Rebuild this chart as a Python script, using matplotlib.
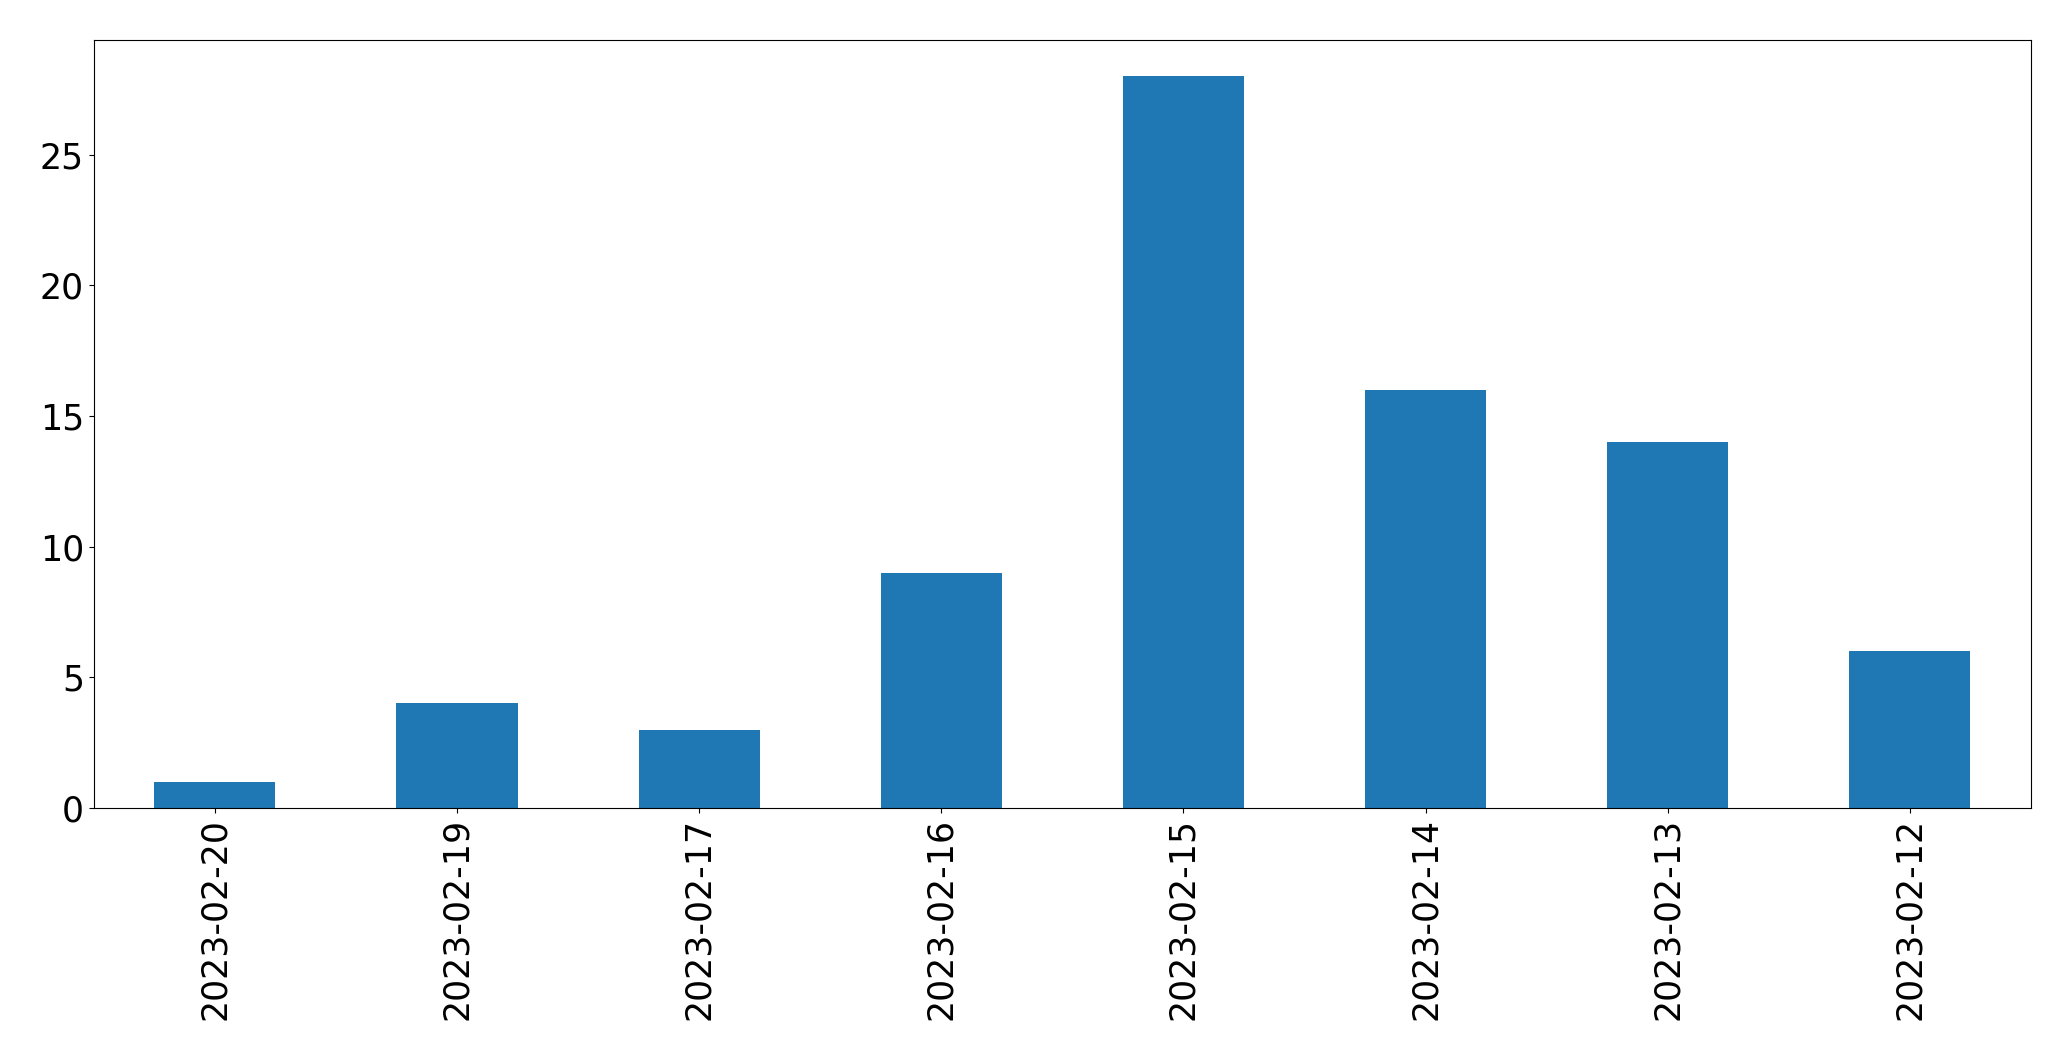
import matplotlib
matplotlib.use("Agg")
import matplotlib.pyplot as plt
import numpy as np

dates = ["2023-02-20", "2023-02-19", "2023-02-17", "2023-02-16",
         "2023-02-15", "2023-02-14", "2023-02-13", "2023-02-12"]
counts = [1, 4, 3, 9, 28, 16, 14, 6]

fig = plt.figure(figsize=(20.71, 10.61), dpi=100)
ax = fig.add_axes([93.8 / 2071, 1 - 808 / 1061, (2031 - 93.8) / 2071, (808 - 39.6) / 1061])

x = np.arange(len(dates))
ax.bar(x, counts, width=0.5, color="#1f77b4")
ax.set_xlim(-0.5, len(dates) - 0.5)
ax.set_xticks(x)
ax.set_xticklabels(dates, rotation=90)
ax.tick_params(labelsize=25)

fig.savefig("out.png", dpi=100)
